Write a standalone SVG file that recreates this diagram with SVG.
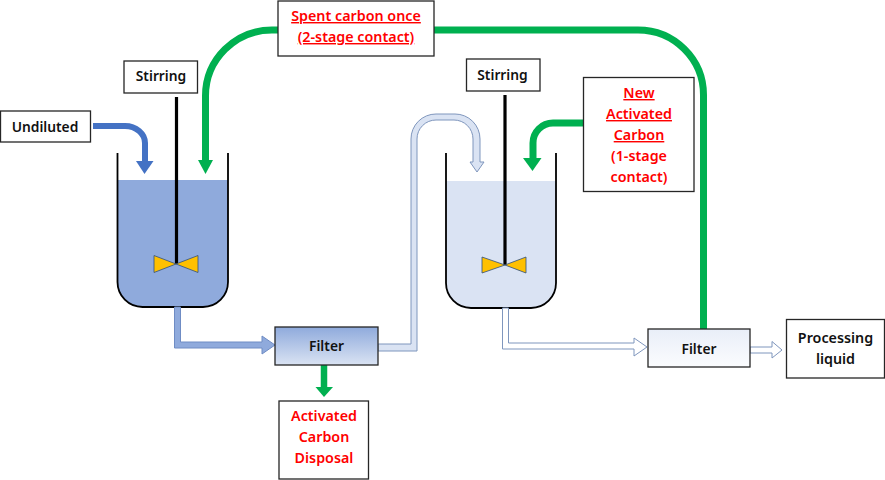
<svg xmlns="http://www.w3.org/2000/svg" width="885" height="480" viewBox="0 0 885 480">
<style>
text{font-family:"Noto Sans","Liberation Sans",sans-serif;font-size:13.800px;font-weight:600;text-anchor:middle;fill:#111}
.red{fill:#f00}
.u{text-decoration:underline}
.wide{font-size:14.300px}
.box{fill:#fff;stroke:#262626;stroke-width:1.3}
.wall{fill:none;stroke:#000;stroke-width:1.8}
.shaft{stroke:#000;stroke-width:3.200;fill:none}
.blade{fill:#ffc000;stroke:#2f4f7f;stroke-width:.8}
.green{fill:none;stroke:#00b050;stroke-width:7}
.greenh{fill:#00b050}
.pipe{stroke-width:1;stroke-linejoin:miter}
</style>
<defs>
<linearGradient id="g1" x1="0" y1="0" x2="0" y2="1"><stop offset="0" stop-color="#8faadc"/><stop offset="1" stop-color="#dae3f3"/></linearGradient>
<linearGradient id="g2" x1="0" y1="0" x2="0" y2="1"><stop offset="0" stop-color="#e9eef8"/><stop offset="1" stop-color="#fbfcfe"/></linearGradient>
</defs>
<rect width="885" height="480" fill="#fff"/>

<g id="tank1">
<path d="M117.500 180H228V282A25 25 0 0 1 203 307H142.500A25 25 0 0 1 117.500 282Z" fill="#8faadc"/>
<path class="wall" d="M117.500 153V282A25 25 0 0 0 142.500 307H203A25 25 0 0 0 228 282V153"/>
</g>
<g id="tank2">
<path d="M446 181H556V283A25 25 0 0 1 531 308H471A25 25 0 0 1 446 283Z" fill="#dae3f3"/>
<path class="wall" d="M446 153V283A25 25 0 0 0 471 308H531A25 25 0 0 0 556 283V153"/>
</g>
<g id="agitator1">
<line class="shaft" x1="176.500" y1="97" x2="176.500" y2="264"/>
<path class="blade" d="M176 264L154 255.500V272.500ZM176 264L198 255.500V272.500Z"/>
</g>
<g id="agitator2">
<line class="shaft" x1="505" y1="95" x2="505" y2="265"/>
<path class="blade" d="M505 265L482 257V273ZM505 265L526 257V273Z"/>
</g>

<g id="connectors">
<path d="M93 126H125A20 17 0 0 1 145 143V161" fill="none" stroke="#4472c4" stroke-width="6"/>
<path d="M136 161H153.500L144.500 174Z" fill="#4472c4"/>
<path class="green" d="M278 30H272A66.500 66 0 0 0 205.500 96V160"/>
<path class="greenh" d="M198 160H213L205.500 174Z"/>
<path class="green" d="M434 30H638A65.500 65 0 0 1 703.500 95V329"/>
<path class="green" d="M583 123H553A20 20 0 0 0 533 143V158"/>
<path class="greenh" d="M523 158H541.500L532.500 171Z"/>
<path d="M324 365V387" fill="none" stroke="#00b050" stroke-width="6.500"/>
<path class="greenh" d="M315.500 387H333L324 397Z"/>
<path class="pipe" fill="#8faadc" stroke="#6f8cc4" d="M174.500 307V348H262V354L275 345L262 336V342H180.500V307Z"/>
<path class="pipe" fill="#dae3f3" stroke="#7f96bd" d="M378 344H411V139A25 25 0 0 1 436 114H455A25 25 0 0 1 480 139V162H484L477 172L470 162H473V139A19 19 0 0 0 454 120H436A19 19 0 0 0 417 139V351H378Z"/>
<path class="pipe" fill="#fff" stroke="#7f96bd" d="M502.500 308V349H634V356L647 347L634 338V343H508.500V308Z"/>
<path class="pipe" fill="#fff" stroke="#7f96bd" d="M750 347H772V341.500L782 350L772 358V353H750Z"/>
</g>

<g id="undiluted"><rect class="box" x="0.500" y="111" width="90" height="31"/><text x="45" y="131.500">Undiluted</text></g>
<g id="stirring1"><rect class="box" x="124" y="61" width="73.500" height="32"/><text x="161" y="81">Stirring</text></g>
<g id="stirring2"><rect class="box" x="466.500" y="59" width="73.500" height="32"/><text x="502.500" y="80">Stirring</text></g>
<g id="spent"><rect class="box" x="278" y="1" width="156" height="55"/>
<text class="red u wide" x="356" y="21">Spent carbon once</text><text class="red u wide" x="356" y="42">(2-stage contact)</text></g>
<g id="newcarbon"><rect class="box" x="583.500" y="77.500" width="110.500" height="114"/>
<text class="red u wide" x="639" y="98">New</text><text class="red u wide" x="639" y="119">Activated</text><text class="red u wide" x="639" y="140">Carbon</text><text class="red wide" x="639" y="161">(1-stage</text><text class="red wide" x="639" y="182">contact)</text></g>
<g id="filter1"><rect x="275" y="327" width="103" height="38" fill="url(#g1)" stroke="#262626" stroke-width="1.3"/><text x="326.500" y="351">Filter</text></g>
<g id="filter2"><rect x="648" y="329" width="102" height="38" fill="url(#g2)" stroke="#262626" stroke-width="1.3"/><text x="699" y="354">Filter</text></g>
<g id="disposal"><rect class="box" x="279" y="401" width="89.500" height="78"/>
<text class="red wide" x="324" y="421">Activated</text><text class="red wide" x="324" y="442">Carbon</text><text class="red wide" x="324" y="463">Disposal</text></g>
<g id="processing"><rect class="box" x="786.500" y="319.500" width="98" height="58.500"/>
<text class="wide" x="835.500" y="343">Processing</text><text class="wide" x="835.500" y="364">liquid</text></g>
</svg>
